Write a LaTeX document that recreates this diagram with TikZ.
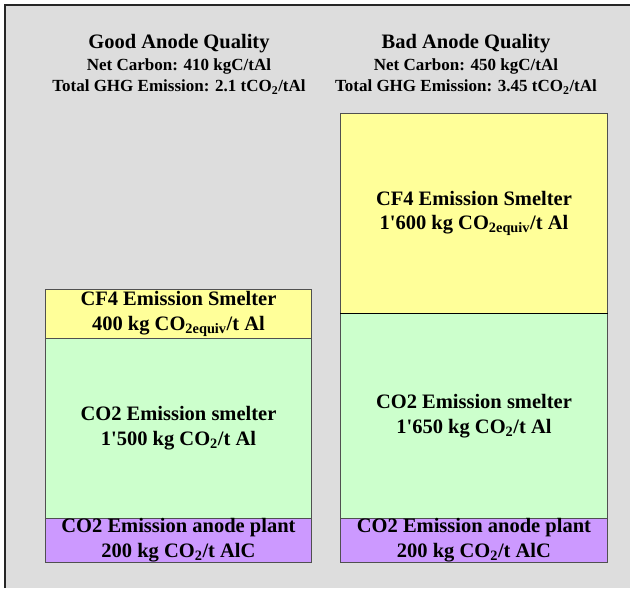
\documentclass[tikz,border=0pt]{standalone}
\usepackage{fontspec}
\setmainfont{Liberation Serif}[Ligatures=TeXOff]
\definecolor{panelgray}{HTML}{DDDDDD}
\definecolor{cfyellow}{HTML}{FFFF99}
\definecolor{smgreen}{HTML}{CCFFCC}
\definecolor{anpurple}{HTML}{CC99FF}
\definecolor{edgegray}{HTML}{505050}
\tikzset{
  seg/.style={draw=edgegray, line width=0.9pt, anchor=north west, inner sep=0pt,
    align=center, minimum width=#1, font=\fontsize{20.5}{24.8}\selectfont\bfseries},
  headtitle/.style={inner sep=0pt, font=\fontsize{20.5}{23}\selectfont\bfseries},
  headinfo/.style={inner sep=0pt, font=\fontsize{17}{20}\selectfont\bfseries},
}
\newcommand{\sub}[1]{\textsubscript{#1}}
\begin{document}
\begin{tikzpicture}[x=1pt,y=-1pt]
\useasboundingbox (0,0) rectangle (630,590);
% background panel
\fill[panelgray] (5,5) rectangle (632,588);
\draw[black!85, line width=2pt] (5,588) -- (5,5) -- (632,5);

% column headings
\node[headtitle] (goodtitle) at (179,44) {Good Anode Quality};
\node[headinfo] (goodnet) at (179,66) {Net Carbon: 410 kgC/tAl};
\node[headinfo] (goodghg) at (179,87) {Total GHG Emission: 2.1 tCO\sub{2}/tAl};
\node[headtitle] (badtitle) at (466,44) {Bad Anode Quality};
\node[headinfo] (badnet) at (466,66) {Net Carbon: 450 kgC/tAl};
\node[headinfo] (badghg) at (466,87) {Total GHG Emission: 3.45 tCO\sub{2}/tAl};

% good anode stack
\node[seg=266pt, fill=cfyellow, minimum height=49pt] (gcf4) at (45,289)
  {CF4 Emission Smelter\\400 kg CO\sub{2equiv}/t Al};
\node[seg=266pt, fill=smgreen, minimum height=180pt] (gco2) at (45,338)
  {CO2 Emission smelter\\1'500 kg CO\sub{2}/t Al};
\node[seg=266pt, fill=anpurple, minimum height=44pt] (gan) at (45,518)
  {CO2 Emission anode plant\\200 kg CO\sub{2}/t AlC};

% bad anode stack
\node[seg=267pt, fill=cfyellow, minimum height=200pt] (bcf4) at (340,113)
  {CF4 Emission Smelter\\1'600 kg CO\sub{2equiv}/t Al};
\node[seg=267pt, fill=smgreen, minimum height=205pt] (bco2) at (340,313)
  {CO2 Emission smelter\\1'650 kg CO\sub{2}/t Al};
\node[seg=267pt, fill=anpurple, minimum height=44pt] (ban) at (340,518)
  {CO2 Emission anode plant\\200 kg CO\sub{2}/t AlC};
\draw[black, line width=1pt] (bcf4.south west) -- (bcf4.south east);
\end{tikzpicture}
\end{document}
